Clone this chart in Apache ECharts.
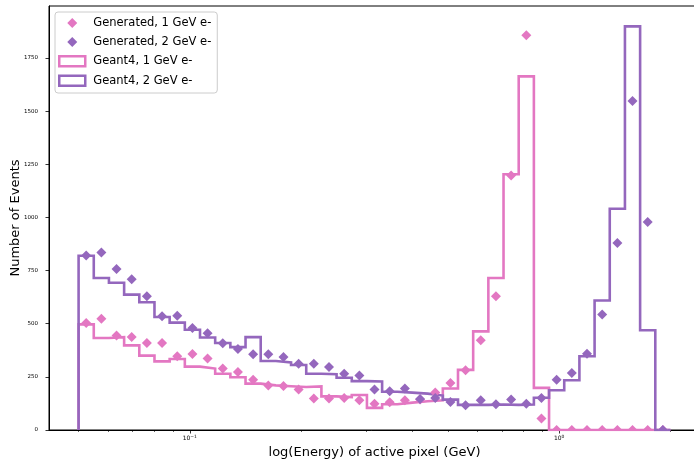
<!DOCTYPE html>
<html>
<head>
<meta charset="utf-8">
<script src="https://cdn.jsdelivr.net/npm/echarts@6/dist/echarts.min.js"></script>
<style>
  html, body { margin: 0; padding: 0; background: #ffffff; }
  #chart { width: 694px; height: 461px; }
</style>
</head>
<body>
<div id="chart"></div>
<script>
// Log-spaced bin edges (GeV), 39 bins from 0.05 to 2.0
const binEdges = [
  0.05, 0.05496, 0.06041, 0.06641, 0.07300, 0.08024, 0.08820, 0.09695,
  0.10657, 0.11714, 0.12876, 0.14154, 0.15558, 0.17101, 0.18798, 0.20663,
  0.22713, 0.24966, 0.27443, 0.30166, 0.33159, 0.36448, 0.40065, 0.44040,
  0.48409, 0.53212, 0.58491, 0.64294, 0.70673, 0.77684, 0.85392, 0.93864,
  1.03176, 1.13413, 1.24665, 1.37033, 1.50628, 1.65572, 1.81999, 2.0
];

// Geant4 histogram counts per bin
const geant1GeV = [
  497, 433, 437, 398, 350, 323, 334, 298, 289, 265, 248, 218, 210, 206, 202, 205,
  158, 155, 165, 104, 121, 129, 135, 140, 195, 283, 464, 715, 1203, 1664, 198,
  0, 0, 0, 0, 0, 0, 0, 0
];
const geant2GeV = [
  820, 715, 693, 637, 601, 532, 505, 472, 435, 409, 390, 437, 325, 318, 306, 265,
  262, 246, 230, 228, 180, 176, 171, 162, 143, 118, 118, 120, 118, 120, 152,
  187, 234, 347, 609, 1041, 1899, 469, 0
];

// Generated-sample counts per bin
const gen1GeV = [
  503, 524, 445, 437, 409, 409, 347, 358, 337, 289, 273, 237, 209, 207, 191, 148,
  148, 151, 140, 124, 130, 140, 144, 176, 221, 281, 422, 629, 1198, 1857, 54,
  0, 0, 0, 0, 0, 0, 0, 0
];
const gen2GeV = [
  821, 835, 757, 709, 629, 535, 538, 480, 455, 408, 381, 356, 356, 343, 312, 312,
  297, 265, 257, 191, 182, 195, 146, 151, 132, 116, 140, 121, 143, 124, 151,
  237, 268, 359, 544, 880, 1548, 979, 0
];

const yTickValues = [0, 250, 500, 750, 1000, 1250, 1500, 1750];
const xMajorTicks = [0.1, 1];
const xMinorTicks = [0.05, 0.06, 0.07, 0.08, 0.09, 0.2, 0.3, 0.4, 0.5, 0.6, 0.7, 0.8, 0.9, 2];

const PINK = '#e377c2';
const PURPLE = '#9467bd';
const FONT = 'DejaVu Sans';

// Legend marker: a square diamond centred in the 26x10 legend slot
const DIAMOND_ICON = 'path://M0,0 M26,10 M13,0 L18,5 L13,10 L8,5 Z';

// Geometric bin centres for the generated points
const binCenters = binEdges.slice(0, -1).map((e, i) => Math.sqrt(e * binEdges[i + 1]));

// Outline of a step histogram: up from the first edge, across each bin, down at the last edge
function stepOutline(counts) {
  const pts = [[binEdges[0], 0]];
  counts.forEach((c, i) => {
    pts.push([binEdges[i], c]);
    pts.push([binEdges[i + 1], c]);
  });
  pts.push([binEdges[counts.length], 0]);
  return pts;
}

function points(counts) {
  return counts.map((c, i) => [binCenters[i], c]);
}

// Diamond markers, clipped to the plot area by the series
function diamondSeries(name, counts, color, z) {
  const half = 5;
  return {
    name, type: 'custom', xAxisIndex: 0, yAxisIndex: 0,
    data: points(counts),
    encode: { x: 0, y: 1 },
    clip: true, z,
    itemStyle: { color },
    renderItem: (params, api) => {
      const p = api.coord([api.value(0), api.value(1)]);
      return {
        type: 'polygon',
        shape: { points: [[p[0], p[1] - half], [p[0] + half, p[1]], [p[0], p[1] + half], [p[0] - half, p[1]]] },
        style: { fill: color }
      };
    }
  };
}

const X_MIN = 0.041578;
const X_MAX = 2.4049;

const chart = echarts.init(document.getElementById('chart'), null, { renderer: 'canvas' });

chart.setOption({
  animation: false,
  backgroundColor: '#ffffff',
  textStyle: { fontFamily: FONT },
  grid: {
    left: 49, top: 6, right: -6, bottom: 31,
    containLabel: false,
    outerBoundsMode: 'none',
    show: true, borderColor: '#000000', borderWidth: 1, backgroundColor: 'transparent'
  },
  legend: {
    orient: 'vertical',
    left: 55, top: 12,
    padding: [5, 6, 6, 3],
    itemWidth: 26, itemHeight: 10, itemGap: 7,
    backgroundColor: 'rgba(255,255,255,0.8)',
    borderColor: '#cccccc', borderWidth: 1, borderRadius: 3,
    textStyle: { fontFamily: FONT, fontSize: 11.5, color: '#000000', padding: [0, 0, 0, 3] },
    data: [
      { name: 'Generated, 1 GeV e-', icon: DIAMOND_ICON, itemStyle: { color: PINK } },
      { name: 'Generated, 2 GeV e-', icon: DIAMOND_ICON, itemStyle: { color: PURPLE } },
      { name: 'Geant4, 1 GeV e-', icon: 'rect',
        itemStyle: { color: '#ffffff', borderColor: PINK, borderWidth: 2.5 } },
      { name: 'Geant4, 2 GeV e-', icon: 'rect',
        itemStyle: { color: '#ffffff', borderColor: PURPLE, borderWidth: 2.5 } }
    ]
  },
  xAxis: [
    {
      type: 'log', logBase: 10, min: X_MIN, max: X_MAX,
      name: 'log(Energy) of active pixel (GeV)',
      nameLocation: 'middle', nameGap: 16, nameMoveOverlap: false,
      nameTextStyle: { fontFamily: FONT, fontSize: 13, color: '#000000' },
      axisLine: { show: true, onZero: false, lineStyle: { color: '#000000', width: 1 } },
      axisTick: { show: true, inside: false, length: 3.5, customValues: xMajorTicks,
                  lineStyle: { color: '#000000', width: 0.8 } },
      axisLabel: {
        show: true, margin: 4, customValues: xMajorTicks,
        formatter: (v) => (v < 0.5 ? '{b|10}{s|−1}' : '{b|10}{s|0}'),
        rich: {
          b: { fontFamily: FONT, fontSize: 6, color: '#000000' },
          s: { fontFamily: FONT, fontSize: 4.5, color: '#000000', padding: [0, 0, 4, 0] }
        }
      },
      splitLine: { show: false }
    },
    {
      type: 'log', logBase: 10, min: X_MIN, max: X_MAX,
      gridIndex: 0, position: 'bottom',
      axisLine: { show: false },
      axisTick: { show: true, inside: false, length: 2, customValues: xMinorTicks,
                  lineStyle: { color: '#000000', width: 0.6 } },
      axisLabel: { show: false },
      splitLine: { show: false }
    }
  ],
  yAxis: {
    type: 'value', min: 0, max: 1995, interval: 250,
    name: 'Number of Events',
    nameLocation: 'middle', nameGap: 27, nameMoveOverlap: false,
    nameTextStyle: { fontFamily: FONT, fontSize: 13, color: '#000000' },
    axisLine: { show: true, onZero: false, lineStyle: { color: '#000000', width: 1 } },
    axisTick: { show: true, inside: false, length: 3.5, customValues: yTickValues,
                lineStyle: { color: '#000000', width: 0.8 } },
    axisLabel: { show: true, margin: 11, customValues: yTickValues,
                 formatter: (v) => String(v),
                 fontFamily: FONT, fontSize: 5.5, color: '#000000' },
    splitLine: { show: false }
  },
  series: [
    {
      name: 'Geant4, 1 GeV e-', type: 'line', xAxisIndex: 0,
      data: stepOutline(geant1GeV),
      showSymbol: false, symbol: 'none', clip: true, z: 2,
      lineStyle: { color: PINK, width: 2.6, join: 'miter' },
      itemStyle: { color: PINK }
    },
    {
      name: 'Geant4, 2 GeV e-', type: 'line', xAxisIndex: 0,
      data: stepOutline(geant2GeV),
      showSymbol: false, symbol: 'none', clip: true, z: 3,
      lineStyle: { color: PURPLE, width: 2.6, join: 'miter' },
      itemStyle: { color: PURPLE }
    },
    diamondSeries('Generated, 1 GeV e-', gen1GeV, PINK, 4),
    diamondSeries('Generated, 2 GeV e-', gen2GeV, PURPLE, 5)
  ]
});
</script>
</body>
</html>
